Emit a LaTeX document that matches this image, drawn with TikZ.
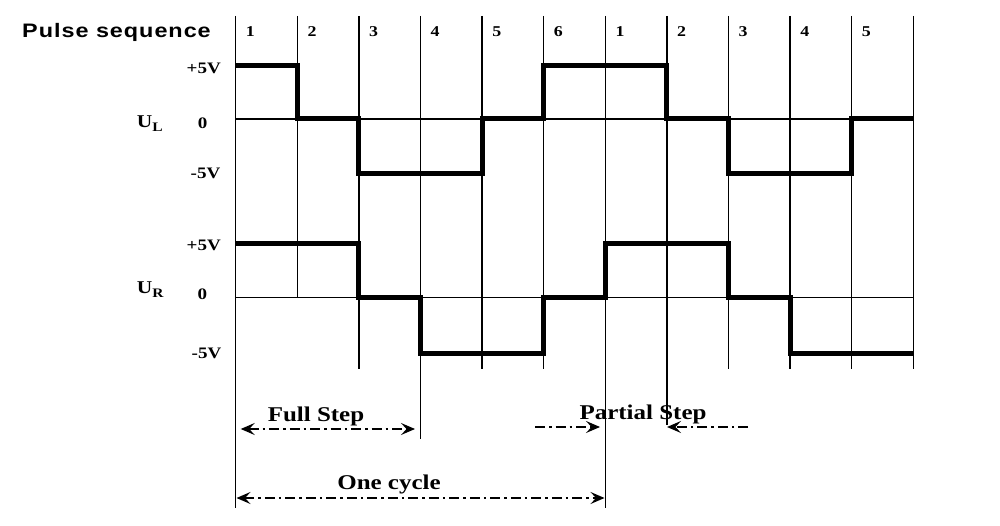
\documentclass[tikz,border=0pt]{standalone}
\usepackage{fontspec}
\setmainfont[FakeStretch=1.19]{Liberation Serif}
\newfontfamily\headfont[FakeStretch=1.2, LetterSpace=5]{Liberation Sans}
\usetikzlibrary{arrows.meta}

\begin{document}
\begin{tikzpicture}[
  x=1pt, y=-1pt,
  >={Stealth[length=14pt, width=12pt, inset=5.5pt]},
  grid/.style={line width=1.3pt},
  wave/.style={line width=5pt},
  span/.style={line width=1.5pt, dash pattern=on 10pt off 4pt on 2.5pt off 4pt},
  seqnum/.style={font=\fontsize{15}{17}\selectfont\bfseries, inner sep=0pt, anchor=base west},
  volt/.style={font=\fontsize{16}{18}\selectfont\bfseries, inner sep=0pt, anchor=base east},
  zero/.style={font=\fontsize{16}{18}\selectfont\bfseries, inner sep=0pt, anchor=base},
  sig/.style={font=\fontsize{18}{20}\selectfont\bfseries, inner sep=0pt, anchor=base west},
  note/.style={font=\fontsize{21}{24}\selectfont\bfseries, inner sep=0pt, anchor=base}
  ]
  \useasboundingbox (0,0) rectangle (1000,526);

  \node[font=\headfont\fontsize{19.5}{22}\selectfont\bfseries, inner sep=0pt, anchor=base west]
    (pulse) at (22,37.3) {Pulse sequence};

  \foreach \i/\b in {0/508,1/297.7,2/369,3/439,4/369,5/369,6/508,7/425,8/369,9/369,10/369,11/369} {
    \coordinate (t\i) at ({235.7+61.6*\i},16);
    \coordinate (b\i) at ({235.7+61.6*\i},\b);
    \draw[grid] (t\i) -- (b\i);
  }
  \foreach \n [count=\i from 0] in {1,2,3,4,5,6,1,2,3,4,5}
    \node[seqnum] (n\i) at ({245.7+61.6*\i},36.7) {\n};

  \coordinate (ul0) at (235.7,119);
  \coordinate (ul1) at (913.3,119);
  \coordinate (ur0) at (235.7,297.7);
  \coordinate (ur1) at (913.3,297.7);
  \draw[grid] (ul0) -- (ul1);
  \draw[grid] (ur0) -- (ur1);

  \node[sig] (ul) at (136.7,127.7) {U\raisebox{-4pt}{\fontsize{13}{14}\selectfont L}};
  \node[volt] (ulp) at (221,74) {+5V};
  \node[zero] (ulz) at (202.7,128.3) {0};
  \node[volt] (ulm) at (220.5,178.3) {-5V};

  \node[sig] (ur) at (136.7,294) {U\raisebox{-4pt}{\fontsize{13}{14}\selectfont R}};
  \node[volt] (urp) at (221,251) {+5V};
  \node[zero] (urz) at (202.3,299) {0};
  \node[volt] (urm) at (221.5,358.3) {-5V};

  \draw[wave] (235.7,65.7) -| (297.3,119) -| (358.9,173.7) -| (482.1,119)
    -| (543.7,65.7) -| (666.9,119) -| (728.5,173.7) -| (851.7,119) -- (913.3,119);
  \draw[wave] (235.7,243.3) -| (358.9,297.7) -| (420.5,353) -| (543.7,297.7)
    -| (605.3,243.3) -| (728.5,297.7) -| (790.1,353) -- (913.3,353);

  \coordinate (fs0) at (240.7,429);
  \coordinate (fs1) at (415,429);
  \coordinate (ps0) at (535,427);
  \coordinate (ps1) at (600,427);
  \coordinate (ps2) at (748,427);
  \coordinate (ps3) at (667,427);
  \coordinate (oc0) at (236.5,498);
  \coordinate (oc1) at (604.5,498);

  \node[note] (full) at (316,421) {Full Step};
  \node[note] (partial) at (643,419) {Partial Step};
  \node[note] (cycle) at (389,489) {One cycle};

  \draw[span, <->] (fs0) -- (fs1);
  \draw[span, ->] (ps0) -- (ps1);
  \draw[span, ->] (ps2) -- (ps3);
  \draw[span, <->] (oc0) -- (oc1);
\end{tikzpicture}
\end{document}
